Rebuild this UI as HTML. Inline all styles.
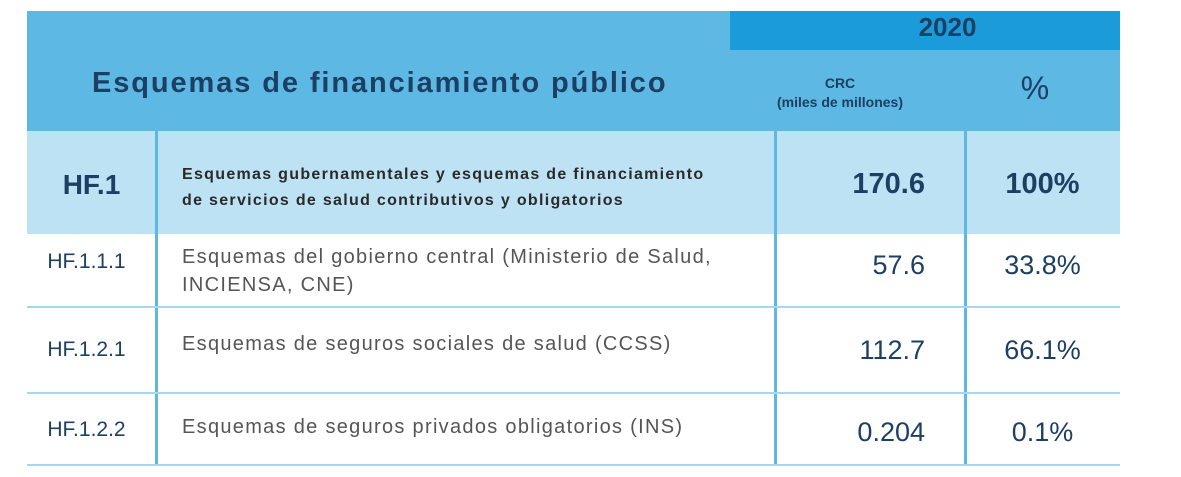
<!DOCTYPE html>
<html><head><meta charset="utf-8"><style>
body{margin:0;width:1181px;height:477px;background:#fff;font-family:"Liberation Sans",sans-serif;position:relative;overflow:hidden}
div{position:absolute;box-sizing:border-box}
.t{color:#1c3f63}
.g{color:#555;letter-spacing:1.3px}
</style></head><body>
<div style="left:27px;top:11px;width:1093px;height:120px;background:#5db8e3"></div>
<div style="left:730px;top:11px;width:390px;height:39px;background:#1b9bd9"></div>
<div class="t" style="left:910px;top:12px;width:75px;text-align:center;font-weight:bold;font-size:26px;">2020</div>
<div class="t" style="left:92px;top:67px;white-space:nowrap;font-weight:bold;font-size:29px;letter-spacing:1.9px">Esquemas de financiamiento público</div>
<div class="t" style="left:730px;top:74px;width:220px;text-align:center;font-weight:bold;font-size:14px;line-height:19px">CRC<br>(miles de millones)</div>
<div class="t" style="left:965px;top:70px;width:140px;text-align:center;font-size:32px;">%</div>
<div style="left:27px;top:131px;width:1093px;height:103px;background:#bde2f4"></div>
<div class="t" style="left:27px;top:169px;width:129px;text-align:center;font-weight:bold;font-size:28px">HF.1</div>
<div style="left:182px;top:162px;font-size:16px;line-height:26px;color:#2a2a2a;font-weight:bold;letter-spacing:1.3px;white-space:nowrap">Esquemas gubernamentales y esquemas de financiamiento<br>de servicios de salud contributivos y obligatorios</div>
<div class="t" style="left:775px;top:168px;width:150px;text-align:right;font-size:29px;font-weight:bold">170.6</div>
<div class="t" style="left:965px;top:168px;width:155px;text-align:center;font-size:29px;font-weight:bold">100%</div>
<div style="left:155px;top:131px;width:3px;height:334px;background:#5db8e3"></div>
<div style="left:774px;top:131px;width:3px;height:334px;background:#5db8e3"></div>
<div style="left:964px;top:131px;width:3px;height:334px;background:#5db8e3"></div>
<div style="left:27px;top:306px;width:1093px;height:2px;background:#a6d7f0"></div>
<div style="left:27px;top:392px;width:1093px;height:2px;background:#a6d7f0"></div>
<div style="left:27px;top:464px;width:1093px;height:2px;background:#a6d7f0"></div>
<div class="t" style="left:22px;top:250px;width:129px;text-align:center;font-size:21px">HF.1.1.1</div>
<div class="g" style="left:182px;top:243px;font-size:20px;line-height:28px;white-space:nowrap">Esquemas del gobierno central (Ministerio de Salud,<br>INCIENSA, CNE)</div>
<div class="t" style="left:775px;top:250px;width:150px;text-align:right;font-size:27px">57.6</div>
<div class="t" style="left:965px;top:250px;width:155px;text-align:center;font-size:27px">33.8%</div>
<div class="t" style="left:22px;top:338px;width:129px;text-align:center;font-size:21px">HF.1.2.1</div>
<div class="g" style="left:182px;top:333px;font-size:20px;white-space:nowrap">Esquemas de seguros sociales de salud (CCSS)</div>
<div class="t" style="left:775px;top:335px;width:150px;text-align:right;font-size:27px">112.7</div>
<div class="t" style="left:965px;top:335px;width:155px;text-align:center;font-size:27px">66.1%</div>
<div class="t" style="left:22px;top:418px;width:129px;text-align:center;font-size:21px">HF.1.2.2</div>
<div class="g" style="left:182px;top:416px;font-size:20px;white-space:nowrap">Esquemas de seguros privados obligatorios (INS)</div>
<div class="t" style="left:775px;top:417px;width:150px;text-align:right;font-size:27px">0.204</div>
<div class="t" style="left:965px;top:417px;width:155px;text-align:center;font-size:27px">0.1%</div>
</body></html>
